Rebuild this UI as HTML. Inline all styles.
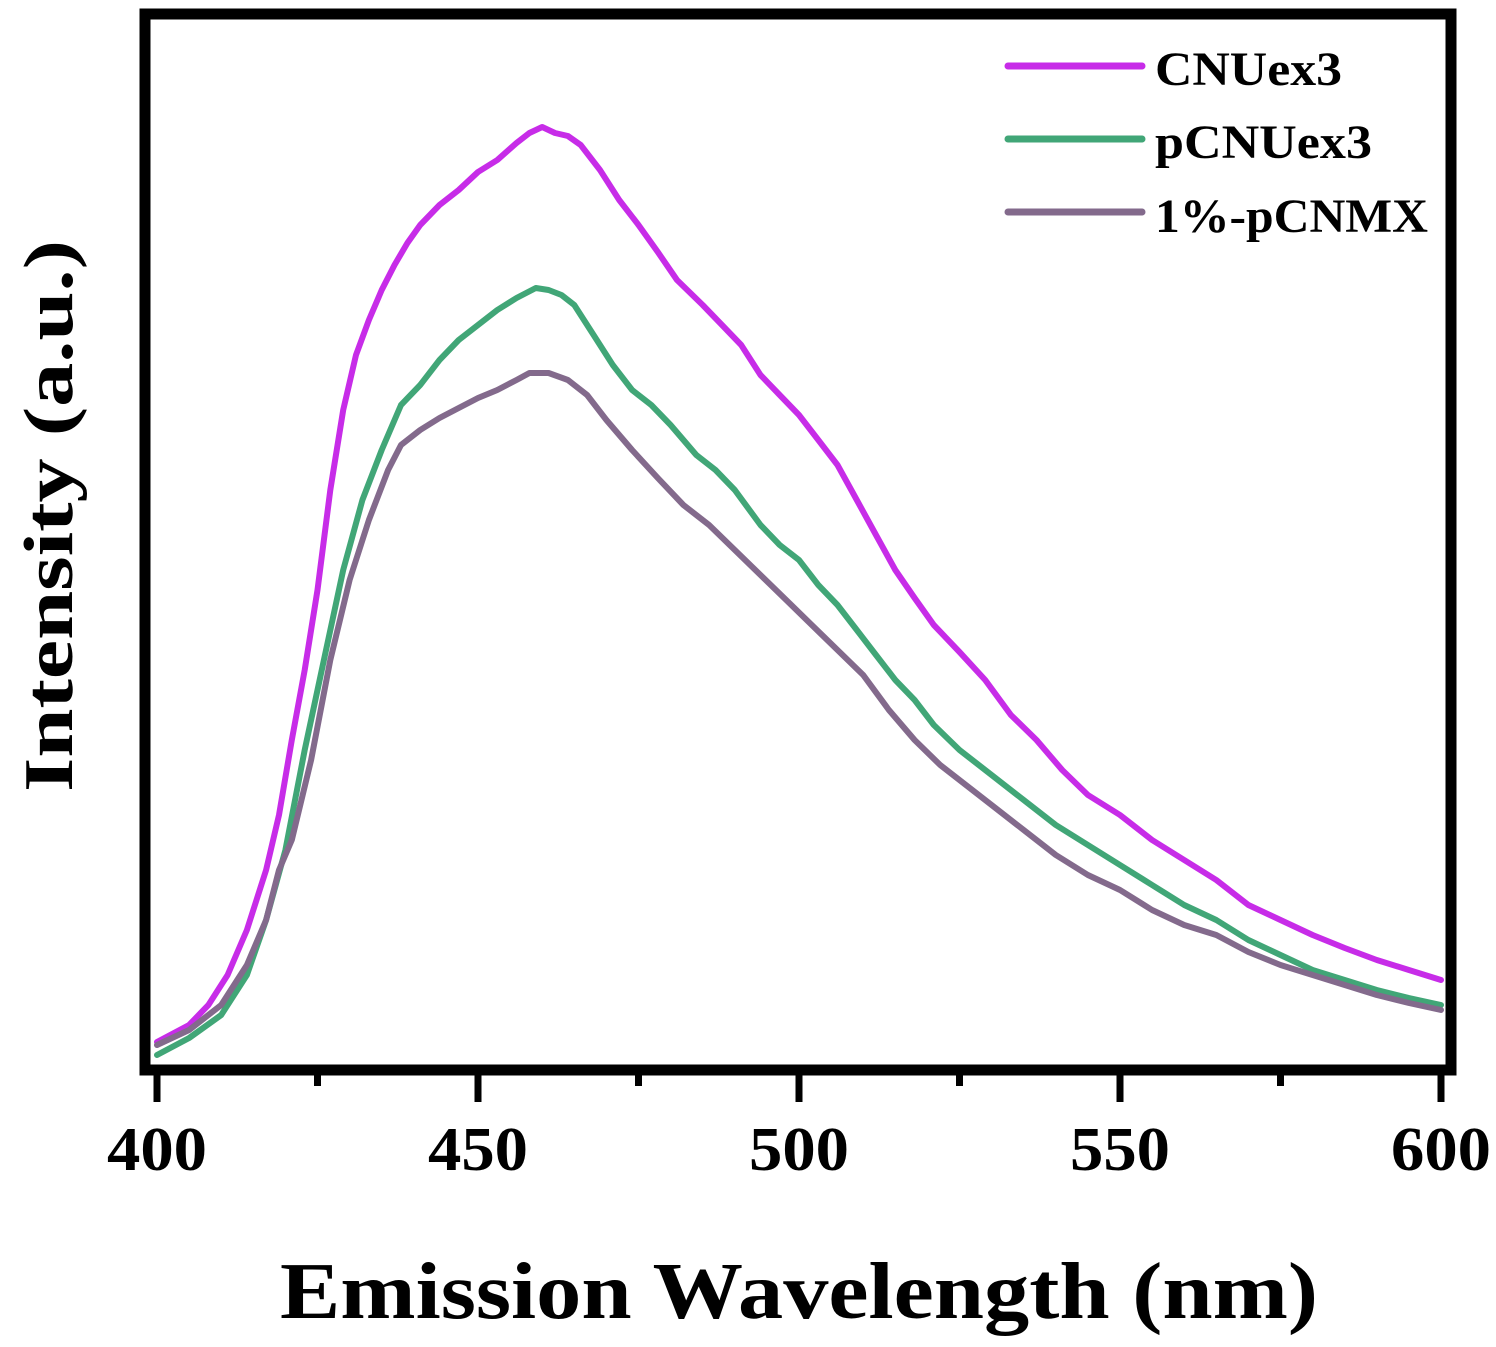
<!DOCTYPE html>
<html><head><meta charset="utf-8"><style>
body{margin:0;background:#fff}
svg text{font-family:"Liberation Serif",serif;font-weight:bold;fill:#000}
</style></head><body>
<svg id="chart" width="1496" height="1342" xmlns="http://www.w3.org/2000/svg">
<g id="series"></g>
<rect x="145" y="14" width="1306" height="1056" fill="none" stroke="#000" stroke-width="11"/>
<g id="ticks"></g>
<text x="280" y="1318" font-size="80" textLength="1038" lengthAdjust="spacingAndGlyphs">Emission Wavelength (nm)</text>
<text transform="translate(72,792) rotate(-90)" font-size="70" textLength="552" lengthAdjust="spacingAndGlyphs">Intensity (a.u.)</text>
<g>
<line x1="1008" y1="66" x2="1142" y2="66" stroke="#C72CE8" stroke-width="7" stroke-linecap="round"/>
<text x="1155" y="85" font-size="48" textLength="187" lengthAdjust="spacingAndGlyphs">CNUex3</text>
<line x1="1008" y1="139" x2="1142" y2="139" stroke="#41A677" stroke-width="7" stroke-linecap="round"/>
<text x="1155" y="158" font-size="48" textLength="217" lengthAdjust="spacingAndGlyphs">pCNUex3</text>
<line x1="1008" y1="212" x2="1142" y2="212" stroke="#836A8C" stroke-width="7" stroke-linecap="round"/>
<text x="1155" y="232" font-size="48" textLength="273" lengthAdjust="spacingAndGlyphs">1%-pCNMX</text>
</g>
</svg>
<script>
const xTicks=[400,450,500,550,600];
const xMinorTicks=[425,475,525,575];
const wlA=[400,405,408,411,414,417,419,421,423,425,427,429,431,433,435,437,439,441,444,447,450,453,456,458,460,462,464,466,469,472,475,478,481,485,488,491,494,497,500,503,506,509,512,515,518,521,525,529,533,537,541,545,550,555,560,565,570,575,580,585,590,595,600];
const cnuex3=[28,45,65,95,140,200,255,330,400,480,580,660,715,750,780,805,827,845,865,880,898,910,927,937,943,937,934,925,900,870,845,818,790,765,745,725,695,675,655,630,605,570,535,500,472,445,418,390,355,330,300,275,255,230,210,190,165,150,135,122,110,100,90];
const wlB=[400,405,410,414,417,420,423,426,429,432,435,438,441,444,447,450,453,456,459,461,463,465,468,471,474,477,480,484,487,490,494,497,500,503,506,509,512,515,518,521,525,530,535,540,545,550,555,560,565,570,575,580,585,590,595,600];
const pcnuex3=[15,32,55,95,150,220,320,410,500,570,620,665,685,710,730,745,760,772,782,780,775,765,735,705,680,665,645,615,600,580,545,525,510,485,465,440,415,390,370,345,320,295,270,245,225,205,185,165,150,130,115,100,90,80,72,65];
const wlC=[400,405,410,414,417,419,421,424,427,430,433,436,438,441,444,447,450,453,456,458,461,464,467,470,474,478,482,486,490,494,498,502,506,510,514,518,522,526,530,535,540,545,550,555,560,565,570,575,580,585,590,595,600];
const pcnmx=[25,40,65,105,150,200,230,310,410,490,550,600,625,640,652,662,672,680,690,697,697,690,675,650,620,592,565,545,520,495,470,445,420,395,360,330,305,285,265,240,215,195,180,160,145,135,118,105,95,85,75,67,60];
function xs(w){return 157+(w-400)*(1441-157)/200;}
function ys(v){return 1070-v;}
const NS="http://www.w3.org/2000/svg";
const sg=document.getElementById('series');
function addLine(wl,vals,color,name){
  const p=document.createElementNS(NS,'path');
  
  
  p.setAttribute('d',wl.map((w,i)=>(i?'L':'M')+xs(w).toFixed(1)+','+ys(vals[i]).toFixed(1)).join(''));
  p.setAttribute('fill','none');p.setAttribute('stroke',color);p.setAttribute('stroke-width','6');
  p.setAttribute('stroke-linejoin','round');p.setAttribute('stroke-linecap','round');
  sg.appendChild(p);
}
addLine(wlA,cnuex3,'#C72CE8','line-cnuex3');
addLine(wlB,pcnuex3,'#41A677','line-pcnuex3');
addLine(wlC,pcnmx,'#836A8C','line-pcnmx');
const tg=document.getElementById('ticks');
xTicks.forEach(t=>{
  const l=document.createElementNS(NS,'line');
  
  
  l.setAttribute('x1',xs(t));l.setAttribute('x2',xs(t));l.setAttribute('y1',1070);l.setAttribute('y2',1102);
  l.setAttribute('stroke','#000');l.setAttribute('stroke-width','7');tg.appendChild(l);
  const tx=document.createElementNS(NS,'text');
  
  
  tx.setAttribute('x',xs(t)-50);tx.setAttribute('y',1170);tx.setAttribute('font-size','62');
  tx.setAttribute('textLength','100');tx.setAttribute('lengthAdjust','spacingAndGlyphs');
  tx.textContent=t;tg.appendChild(tx);
});
xMinorTicks.forEach(t=>{
  const l=document.createElementNS(NS,'line');
  
  
  l.setAttribute('x1',xs(t));l.setAttribute('x2',xs(t));l.setAttribute('y1',1070);l.setAttribute('y2',1086);
  l.setAttribute('stroke','#000');l.setAttribute('stroke-width','7');tg.appendChild(l);
});
</script>
</body></html>
